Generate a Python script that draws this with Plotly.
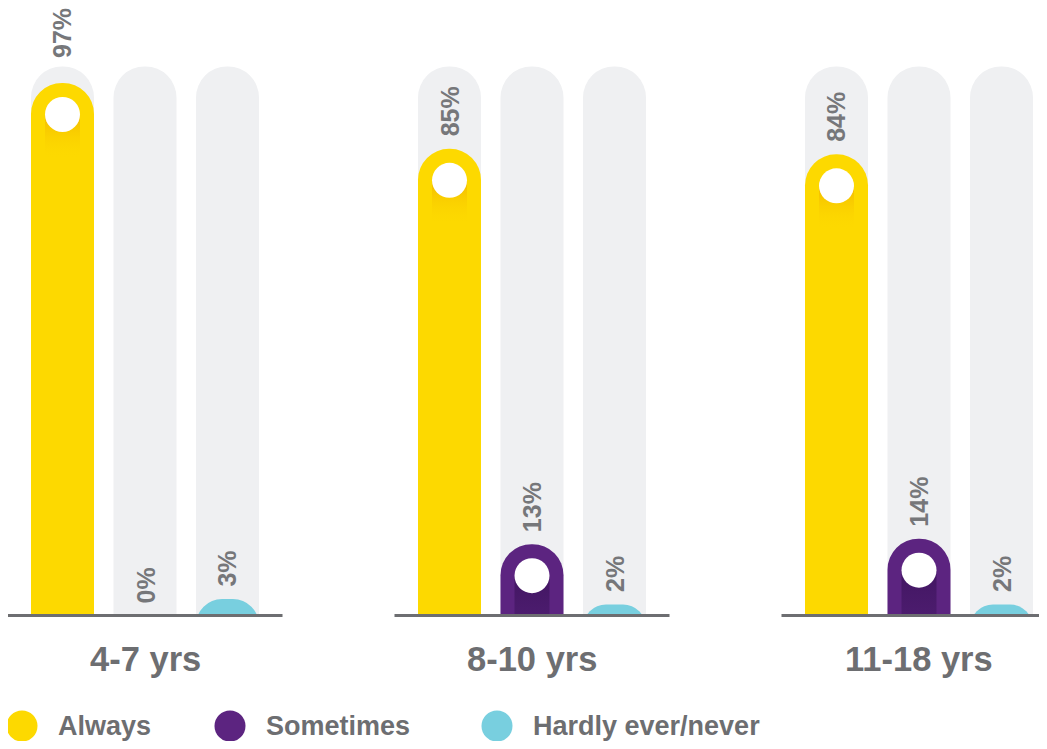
import plotly.graph_objects as go

groups = ["4-7 yrs", "8-10 yrs", "11-18 yrs"]
series = ["Always", "Sometimes", "Hardly ever/never"]
always = [97, 85, 84]
sometimes = [0, 13, 14]
hardly = [3, 2, 2]
values = [always, sometimes, hardly]

colors = ["#fdd900", "#5c2480", "#78cfdf"]
shade_top = ["rgba(243,186,0,1)", "rgba(66,22,98,1)", None]
shade_bot = ["rgba(253,217,0,0)", "rgba(74,27,108,0.9)", None]
track = "#eff0f2"
grey = "#6d6e71"
font = "Liberation Sans, Arial, sans-serif"

# the page body keeps an 8px margin, so the figure is laid out in page pixels
PAGE_W, PAGE_H = 1047, 749
OFF = 8
W, H = PAGE_W - 2 * OFF, PAGE_H - 2 * OFF
ppu = 5.49          # pixels per percentage point
base_px = 615.5     # page row of the baseline
group_x = [145, 532, 919]
step = 82.5
bar_w = 63
u = 1 / ppu         # one pixel in y units
sink = 36 * u       # bars start below the baseline so short ones get a full dome

fig = go.Figure()

# grey tracks (100%) on their own axis so data bars keep their rounded tops
xs_all = [gx + (s - 1) * step for gx in group_x for s in range(3)]
fig.add_trace(go.Bar(x=xs_all, y=[100] * len(xs_all), width=bar_w,
                     marker=dict(color=track, cornerradius="50%", line_width=0),
                     hoverinfo="skip"))

for s, name in enumerate(series):
    xs = [gx + (s - 1) * step for gx in group_x]
    fig.add_trace(go.Bar(x=xs, y=[v + sink for v in values[s]], base=-sink,
                         width=bar_w, name=name, yaxis="y2",
                         customdata=values[s], hovertemplate="%{customdata}%<extra></extra>",
                         marker=dict(color=colors[s], cornerradius="50%", line_width=0)))

# inner shading + white knob
for s in range(3):
    if shade_top[s] is None:
        continue
    for gx, v in zip(group_x, values[s]):
        if v < 8:
            continue
        cx = gx + (s - 1) * step
        cy = v - 31.5 * u
        top = cy
        bot = max(cy - 44 * u, 0) if s == 0 else 0
        hw = 17.5
        fig.add_trace(go.Scatter(
            x=[cx - hw, cx + hw, cx + hw, cx - hw, cx - hw],
            y=[top, top, bot, bot, top], mode="lines", line_width=0,
            fill="toself", yaxis="y2",
            fillgradient=dict(type="vertical",
                              colorscale=[[0, shade_bot[s]], [1, shade_top[s]]],
                              start=bot, stop=top),
            hoverinfo="skip"))
        fig.add_trace(go.Scatter(x=[cx], y=[cy], mode="markers", yaxis="y2",
                                 marker=dict(size=35, color="white", line_width=0),
                                 hoverinfo="skip"))

annotations = []
# value labels
for s in range(3):
    for gx, v in zip(group_x, values[s]):
        cx = gx + (s - 1) * step
        yb = 100 + 6 * u if v > 90 else v + 10 * u
        annotations.append(dict(x=cx, y=yb, xref="x", yref="y", textangle=-90,
                                text="<b>%d%%</b>" % v, showarrow=False,
                                xanchor="center", yanchor="bottom",
                                font=dict(family=font, size=25, color="#76777a")))

# group labels
for gx, g in zip(group_x, groups):
    annotations.append(dict(x=gx, y=(base_px - 659) * u, xref="x", yref="y",
                            text="<b>%s</b>" % g, showarrow=False,
                            xanchor="center", yanchor="middle",
                            font=dict(family=font, size=34.5, color=grey)))

# legend
leg_x = [22, 230, 497]
leg_y = (base_px - 726) * u
fig.add_trace(go.Scatter(x=leg_x, y=[leg_y] * 3, mode="markers", yaxis="y2",
                         marker=dict(size=31, color=colors, line_width=0),
                         hoverinfo="skip", cliponaxis=False))
for lx, name in zip(leg_x, series):
    annotations.append(dict(x=lx + 34, y=leg_y, xref="x", yref="y",
                            text="<b>%s</b>" % name, showarrow=False,
                            xanchor="left", yanchor="middle",
                            font=dict(family=font, size=27, color=grey)))

# white mask under the baseline, then the baselines
shapes = [dict(type="rect", xref="paper", yref="y", x0=0, x1=1, y0=-sink - 1, y1=0,
               fillcolor="white", line_width=0, layer="above")]
for gx in group_x:
    shapes.append(dict(type="line", xref="x", yref="y", x0=gx - 137.5, x1=gx + 137.5,
                       y0=0, y1=0, line=dict(color=grey, width=3)))

yr = [(base_px - (PAGE_H - OFF)) * u, (base_px - OFF) * u]
fig.update_layout(
    width=W, height=H, margin=dict(l=0, r=0, t=0, b=0),
    paper_bgcolor="white", plot_bgcolor="white",
    barmode="overlay", showlegend=False,
    xaxis=dict(range=[OFF, OFF + W], visible=False, fixedrange=True),
    yaxis=dict(range=yr, visible=False, fixedrange=True),
    yaxis2=dict(range=yr, visible=False, fixedrange=True, overlaying="y"),
    annotations=annotations, shapes=shapes,
)

fig.write_html("out.html")
